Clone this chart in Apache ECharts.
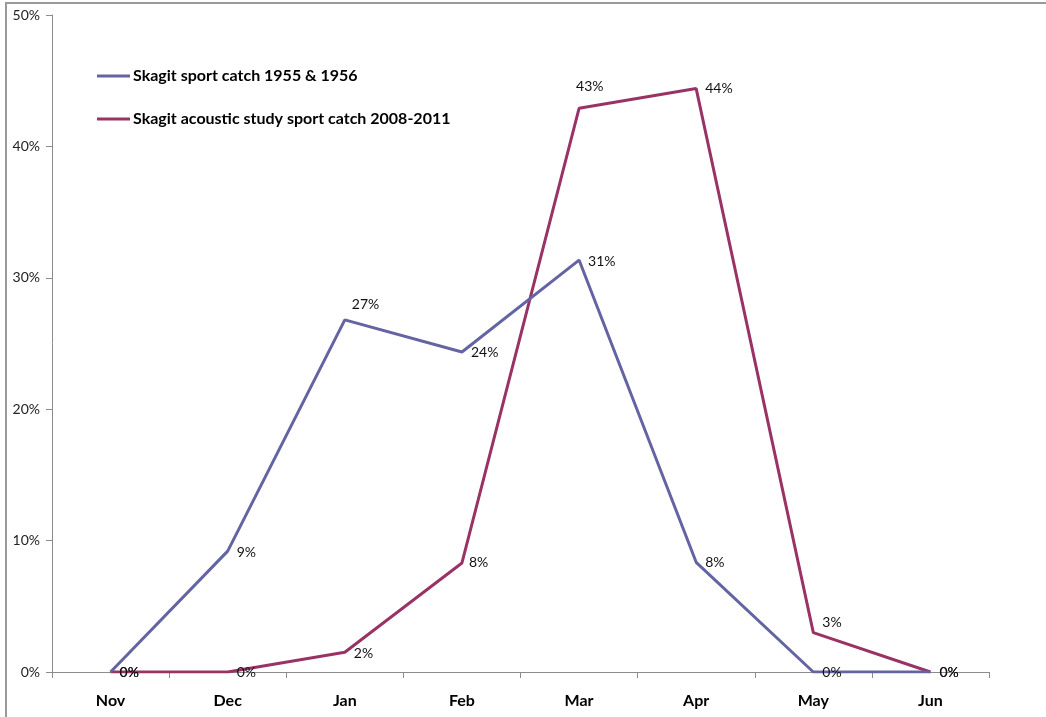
<!DOCTYPE html>
<html lang="en">
<head>
    <meta charset="UTF-8">
    <title>Skagit sport catch</title>
    <script src="https://cdn.jsdelivr.net/npm/echarts@6/dist/echarts.min.js"></script>
    <style>
        html,
        body {
            margin: 0;
            height: 100%;
            background: #fff;
        }
        #main {
            width: 1046px;
            height: 717px;
        }
    </style>
</head>
<body>
    <div id="main"></div>
    <script type="text/javascript">
        const months = ['Nov', 'Dec', 'Jan', 'Feb', 'Mar', 'Apr', 'May', 'Jun'];
        const catch1955 = [0, 9.2, 26.8, 24.35, 31.35, 8.35, 0, 0];
        const catchAcoustic = [0, 0, 1.5, 8.3, 42.9, 44.4, 3.0, 0];
        const yTicks = [0, 10, 20, 30, 40, 50];

        // label nudges per point, [dx, dy]
        const nudge1955 = [[0, 0], [0, 1], [-2, -15], [0, 0], [0, 1], [0, 0], [0, 0], [0, 0]];
        const nudgeAcoustic = [[0, 0], [0, 0], [0, 1], [-2, 0], [-12, -22], [0, 0], [0, -10], [0, 0]];

        const FONT = 'Lato, "Open Sans", sans-serif';
        const pct = v => Math.round(v) + '%';

        const toData = (values, nudges) => values.map((v, i) => ({
            value: v,
            label: { offset: nudges[i] }
        }));

        const labelStyle = {
            show: true,
            position: 'right',
            distance: 9,
            fontSize: 14,
            color: '#111',
            fontFamily: FONT,
            formatter: p => pct(p.value)
        };

        const myChart = echarts.init(document.getElementById('main'));
        myChart.setOption({
            animation: false,
            textStyle: { fontFamily: FONT },
            grid: { left: 52, right: 57, top: 15, bottom: 45, containLabel: false },
            graphic: [{
                type: 'rect',
                shape: { x: 6, y: 3, width: 1200, height: 900 },
                style: { fill: 'none', stroke: '#9a9a9a', lineWidth: 2 },
                silent: true
            }],
            legend: {
                orient: 'vertical',
                left: 92,
                top: 63,
                itemGap: 27,
                itemWidth: 33,
                itemHeight: 3,
                icon: 'rect',
                textStyle: { fontFamily: FONT, fontWeight: 'bold', fontSize: 16, color: '#000', padding: [0, 0, 0, -2] },
                data: ['Skagit sport catch 1955 & 1956', 'Skagit acoustic study sport catch 2008-2011']
            },
            xAxis: {
                type: 'category',
                data: months,
                boundaryGap: true,
                axisLine: { lineStyle: { color: '#8c8c8c', width: 1 } },
                axisTick: { show: true, interval: 0, length: 6, lineStyle: { color: '#8c8c8c' } },
                axisLabel: { margin: 21, fontSize: 16, fontWeight: 'bold', color: '#000', fontFamily: FONT }
            },
            yAxis: {
                type: 'value',
                min: yTicks[0],
                max: yTicks[yTicks.length - 1],
                interval: 10,
                splitLine: { show: false },
                axisLine: { show: true, lineStyle: { color: '#8c8c8c', width: 1 } },
                axisTick: { show: true, length: 6, lineStyle: { color: '#8c8c8c' } },
                axisLabel: { margin: 12, fontSize: 14, color: '#222', fontFamily: FONT, formatter: pct }
            },
            series: [{
                name: 'Skagit sport catch 1955 & 1956',
                type: 'line',
                data: toData(catch1955, nudge1955),
                symbol: 'circle',
                symbolSize: 0,
                showSymbol: true,
                lineStyle: { color: '#6464a3', width: 3 },
                itemStyle: { color: '#6464a3' },
                label: labelStyle,
                z: 3
            }, {
                name: 'Skagit acoustic study sport catch 2008-2011',
                type: 'line',
                data: toData(catchAcoustic, nudgeAcoustic),
                symbol: 'circle',
                symbolSize: 0,
                showSymbol: true,
                lineStyle: { color: '#993366', width: 3 },
                itemStyle: { color: '#993366' },
                label: labelStyle,
                z: 2
            }]
        });
    </script>
</body>
</html>
